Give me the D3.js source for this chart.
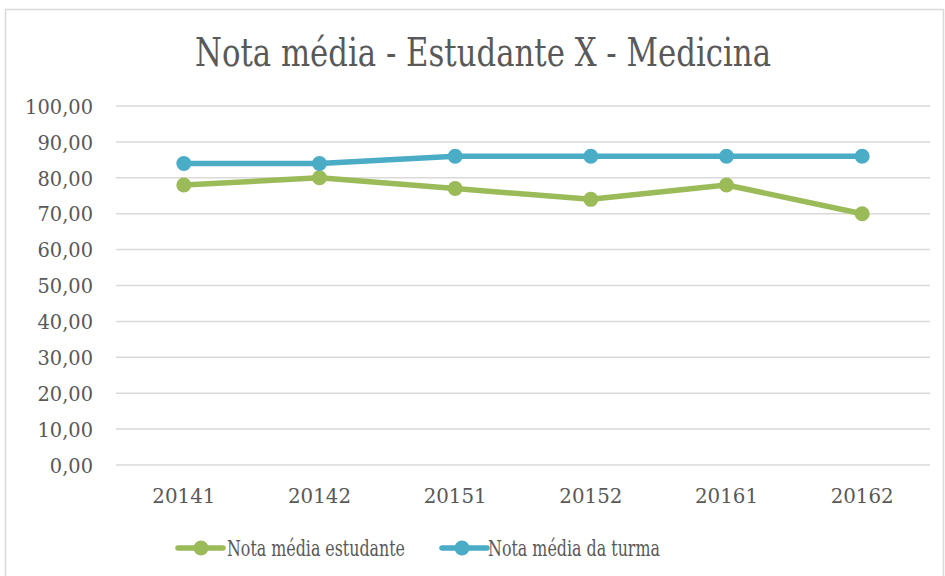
<!DOCTYPE html>
<html><head><meta charset="utf-8">
<script src="https://cdn.jsdelivr.net/npm/d3@7"></script>
<style>body{margin:0;background:#fff}svg{display:block}</style>
</head><body>
<script>
const categories = ["20141","20142","20151","20152","20161","20162"];
const studentValues = [78, 80, 77, 74, 78, 70];
const classValues = [84, 84, 86, 86, 86, 86];
const yTicks = [0,10,20,30,40,50,60,70,80,90,100];
const seriesNames = ["Nota média estudante","Nota média da turma"];
const seriesColors = ["#9BBB59","#4BACC6"];
const title = "Nota média - Estudante X - Medicina";

const W = 945, H = 576;
const svg = d3.select("body").append("svg").attr("width", W).attr("height", H);
const font = "DejaVu Serif";
const textColor = "#595959";

svg.append("rect").attr("x", 5.5).attr("y", 9.5).attr("width", 938).attr("height", 580)
  .attr("fill", "#fff").attr("stroke", "#d9d9d9").attr("stroke-width", 1.5);

svg.append("text").attr("x", 483).attr("y", 66).attr("text-anchor", "middle")
  .style("font-family", font).attr("font-size", 40).attr("fill", textColor).text(title)
  .attr("textLength", 576).attr("lengthAdjust", "spacingAndGlyphs");

const x = d3.scaleBand().domain(categories).range([116, 930]);
const y = d3.scaleLinear().domain([0, 100]).range([465, 106]);
const fmt = v => d3.format(".2f")(v).replace(".", ",");

svg.append("g").selectAll("line").data(yTicks).join("line")
  .attr("x1", 116).attr("x2", 930).attr("y1", d => y(d)).attr("y2", d => y(d))
  .attr("stroke", "#d9d9d9").attr("stroke-width", 1.5);

const yAxis = d3.axisLeft(y).tickValues(yTicks).tickFormat(fmt).tickSize(0).tickPadding(0);
const ya = svg.append("g").attr("transform", "translate(93,0)").call(yAxis);
ya.select(".domain").remove();
ya.selectAll("text").style("font-family", font).attr("font-size", 20).attr("fill", textColor).attr("dy", "0.36em")
  .attr("textLength", function(){ return this.getComputedTextLength() * 0.97; }).attr("lengthAdjust", "spacingAndGlyphs");

const xAxis = d3.axisBottom(x).tickSize(0).tickPadding(0);
const xa = svg.append("g").attr("transform", "translate(0,496)").call(xAxis);
xa.select(".domain").remove();
xa.selectAll("text").style("font-family", font).attr("font-size", 20).attr("fill", textColor).attr("dy", "0.36em")
  .attr("textLength", 63).attr("lengthAdjust", "spacingAndGlyphs");

const series = [studentValues, classValues];
const line = d3.line().x((d,i) => x(categories[i]) + x.bandwidth()/2).y(d => y(d));
series.forEach((vals, si) => {
  svg.append("path").datum(vals).attr("d", line).attr("fill", "none")
    .attr("stroke", seriesColors[si]).attr("stroke-width", 5.5).attr("stroke-linejoin","round").attr("stroke-linecap","round");
  svg.selectAll(null).data(vals).join("circle")
    .attr("cx", (d,i) => x(categories[i]) + x.bandwidth()/2).attr("cy", d => y(d))
    .attr("r", 7.5).attr("fill", seriesColors[si]);
});

const legendItems = [{x0:178, x1:223, cx:201, tx:227, w:178}, {x0:442, x1:487, cx:462, tx:488, w:172}];
legendItems.forEach((L, i) => {
  const lg = svg.append("g");
  lg.append("line").attr("x1", L.x0).attr("x2", L.x1).attr("y1", 548).attr("y2", 548)
    .attr("stroke", seriesColors[i]).attr("stroke-width", 5.5).attr("stroke-linecap","round");
  lg.append("circle").attr("cx", L.cx).attr("cy", 548).attr("r", 7.5).attr("fill", seriesColors[i]);
  lg.append("text").attr("x", L.tx).attr("y", 548).attr("dy", "0.36em")
    .style("font-family", font).attr("font-size", 21.5).attr("fill", textColor).text(seriesNames[i])
    .attr("textLength", L.w).attr("lengthAdjust", "spacingAndGlyphs");
});
</script>
</body></html>
